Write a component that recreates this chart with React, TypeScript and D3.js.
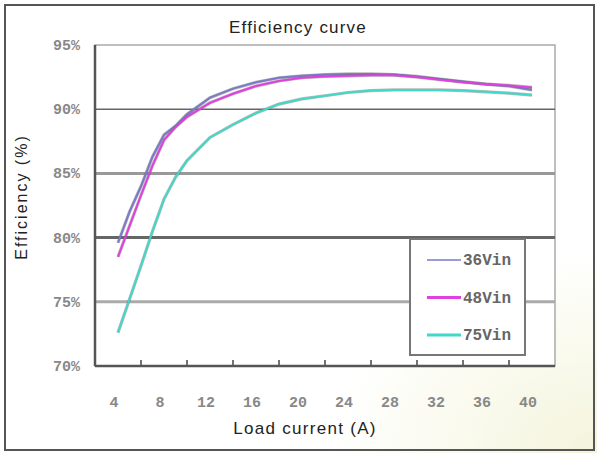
import React from "react";
import * as d3 from "d3";

const loadA = [4, 5, 6, 7, 8, 9, 10, 12, 14, 16, 18, 20, 22, 24, 26, 28, 30, 32, 34, 36, 38, 40];
const eff36 = [79.6, 82.0, 84.0, 86.3, 88.0, 88.7, 89.6, 90.9, 91.6, 92.1, 92.45, 92.6, 92.7, 92.75, 92.75, 92.7, 92.55, 92.35, 92.15, 91.95, 91.8, 91.5];
const eff48 = [78.5, 80.9, 83.3, 85.6, 87.6, 88.6, 89.4, 90.5, 91.2, 91.8, 92.2, 92.45, 92.55, 92.6, 92.65, 92.65, 92.5, 92.3, 92.1, 91.95, 91.85, 91.7];
const eff75 = [72.6, 75.2, 77.8, 80.5, 83.0, 84.7, 86.0, 87.8, 88.8, 89.7, 90.4, 90.8, 91.05, 91.3, 91.45, 91.5, 91.5, 91.5, 91.45, 91.35, 91.25, 91.1];
const seriesNames = ["36Vin", "48Vin", "75Vin"];
const seriesColors = ["#7a7ac8", "#e040e0", "#40d8c8"];
const xTickLabels = [4, 8, 12, 16, 20, 24, 28, 32, 36, 40];
const yTicks = [70, 75, 80, 85, 90, 95];

export default function App() {
  const W = 597, H = 453;
  const left = 95, right = 555, top = 45, bottom = 366;
  const x = d3.scaleLinear().domain([2, 42]).range([left, right]);
  const y = d3.scaleLinear().domain([70, 95]).range([bottom, top]);
  const line = d3.line<[number, number]>().x(d => x(d[0])).y(d => y(d[1]));
  const allSeries = [eff36, eff48, eff75];
  const gridStyle: Record<number, { w: number; c: string }> = {
    90: { w: 1.5, c: "#666" },
    85: { w: 3, c: "#999" },
    80: { w: 3, c: "#666" },
    75: { w: 3, c: "#aaa" },
  };
  const boundaries = d3.range(6, 42, 4);
  const lg = { x0: 410, y0: 239, x1: 525, y1: 355 };
  const mono = "'Liberation Mono', 'DejaVu Sans Mono', monospace";
  const sans = "Arial, 'Liberation Sans', sans-serif";
  return (
    <svg width={W} height={H} style={{ position: "absolute", left: 0, top: 0 }}>
      <defs>
        <radialGradient id="bg" cx="1" cy="1" r="0.45">
          <stop offset="0" stopColor="#f4f4dc" />
          <stop offset="1" stopColor="#ffffff" />
        </radialGradient>
      </defs>
      <rect x={0} y={0} width={W} height={H} fill="url(#bg)" />
      <rect x={5} y={5} width={589} height={445} fill="none" stroke="#555" strokeWidth={2} />
      <text x={298} y={33} textAnchor="middle" fontFamily={sans} fontSize={17} letterSpacing={1.2} fill="#222">
        Efficiency curve
      </text>
      <rect x={left} y={top} width={right - left} height={bottom - top} fill="#fff" stroke="#aaa" strokeWidth={1.5} />
      {yTicks.filter(t => gridStyle[t]).map(t => (
        <line key={t} x1={left} x2={right} y1={y(t)} y2={y(t)} stroke={gridStyle[t].c} strokeWidth={gridStyle[t].w} />
      ))}
      {boundaries.map(b => (
        <line key={b} x1={x(b)} x2={x(b)} y1={bottom} y2={bottom - 6} stroke="#444" strokeWidth={1.5} />
      ))}
      <line x1={left} x2={left} y1={top} y2={bottom} stroke="#555" strokeWidth={2.5} />
      <line x1={left} x2={right} y1={bottom} y2={bottom} stroke="#555" strokeWidth={2.5} />
      {yTicks.map(t => (
        <text key={t} x={80} y={y(t) + 5} textAnchor="end" fontFamily={mono} fontWeight="bold" fontSize={15} fill="#888">
          {t}%
        </text>
      ))}
      {xTickLabels.map(t => (
        <text key={t} x={x(t) - 4} y={407} textAnchor="middle" fontFamily={mono} fontWeight="bold" fontSize={15} fill="#888">
          {t}
        </text>
      ))}
      {allSeries.map((s, i) => (
        <g key={i}>
          <path d={line(loadA.map((a, j) => [a, s[j]] as [number, number])) || ""} fill="none" stroke="#666" strokeWidth={3.2} opacity={0.45} />
          <path d={line(loadA.map((a, j) => [a, s[j]] as [number, number])) || ""} fill="none" stroke={seriesColors[i]} strokeWidth={2} />
        </g>
      ))}
      <text transform={`translate(27,197) rotate(-90)`} textAnchor="middle" fontFamily={sans} fontSize={16} letterSpacing={2} fill="#222">
        Efficiency (%)
      </text>
      <text x={305} y={434} textAnchor="middle" fontFamily={sans} fontSize={17} letterSpacing={1.3} fill="#222">
        Load current (A)
      </text>
      <rect x={lg.x0} y={lg.y0} width={lg.x1 - lg.x0} height={lg.y1 - lg.y0} fill="#fff" stroke="#777" strokeWidth={2} />
      {seriesNames.map((n, i) => {
        const ly = 260 + i * 37.5;
        return (
          <g key={n}>
            <line x1={427} x2={461} y1={ly} y2={ly} stroke={seriesColors[i]} strokeWidth={i === 0 ? 1.5 : 3} />
            <text x={463} y={ly + 5} fontFamily={mono} fontWeight="bold" fontSize={16} fill="#666">
              {n}
            </text>
          </g>
        );
      })}
    </svg>
  );
}
